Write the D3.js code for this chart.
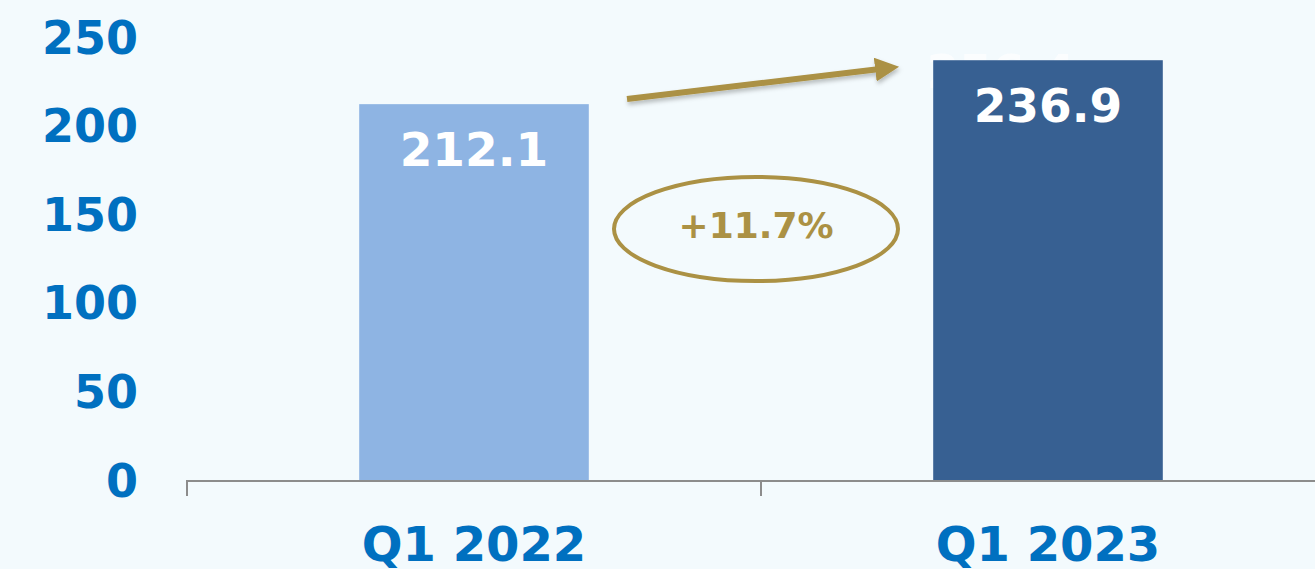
<!DOCTYPE html>
<html>
<head>
<meta charset="utf-8">
<script src="https://cdn.jsdelivr.net/npm/d3@7"></script>
<style>
  html, body { margin: 0; padding: 0; background: #f3fafd; }
  svg { display: block; font-family: "DejaVu Sans", Verdana, sans-serif; font-weight: bold; }
</style>
</head>
<body>
<div id="chart"></div>
<script>
// chart values
const quarters = ["Q1 2022", "Q1 2023"];
const values = [212.1, 236.9];
const barColors = ["#8eb4e3", "#376092"];
const yTicks = [0, 50, 100, 150, 200, 250];
const growthLabel = "+11.7%";
const hiddenLabel = "256.4";

const w = 1315;
const h = 569;

const svg = d3.select("#chart")
  .append("svg")
  .attr("width", w)
  .attr("height", h);

svg.append("rect")
  .attr("width", w)
  .attr("height", h)
  .attr("fill", "#f3fafd");

const defs = svg.append("defs");
defs.append("filter")
  .attr("id", "shadow")
  .attr("x", "-10%").attr("y", "-50%")
  .attr("width", "120%").attr("height", "200%")
  .append("feDropShadow")
  .attr("dx", 1).attr("dy", 3)
  .attr("stdDeviation", 2)
  .attr("flood-color", "#000")
  .attr("flood-opacity", 0.25);
defs.append("marker")
  .attr("id", "head")
  .attr("viewBox", "0 0 10 10")
  .attr("refX", 2).attr("refY", 5)
  .attr("markerWidth", 4).attr("markerHeight", 4)
  .attr("markerUnits", "strokeWidth")
  .attr("orient", "auto")
  .append("path")
  .attr("d", "M0,0 L10,5 L0,10 Z")
  .attr("fill", "#ab9144");

const xScale = d3.scaleBand()
  .domain(quarters)
  .range([187, 1335])
  .paddingInner(0.6)
  .paddingOuter(0.3);

const yScale = d3.scaleLinear()
  .domain([0, 250])
  .range([480, 37]);

// y labels (no axis line)
svg.append("g")
  .selectAll("text")
  .data(yTicks)
  .enter()
  .append("text")
  .attr("x", 138)
  .attr("y", d => yScale(d))
  .attr("dy", "0.36em")
  .attr("text-anchor", "end")
  .attr("font-size", 46)
  .attr("fill", "#0070c0")
  .text(d => d);

// leftover white label mostly hidden behind the second bar
svg.append("text")
  .attr("x", xScale(quarters[1]) + xScale.bandwidth() / 2 - 47)
  .attr("y", 88)
  .attr("text-anchor", "middle")
  .attr("font-size", 47)
  .attr("fill", "#ffffff")
  .attr("opacity", 0.7)
  .text(hiddenLabel);

// bars
svg.selectAll("rect.bar")
  .data(values)
  .enter()
  .append("rect")
  .attr("class", "bar")
  .attr("x", (d, i) => xScale(quarters[i]))
  .attr("y", d => yScale(d))
  .attr("width", xScale.bandwidth())
  .attr("height", d => yScale(0) - yScale(d))
  .attr("fill", (d, i) => barColors[i]);

// value labels
svg.selectAll("text.val")
  .data(values)
  .enter()
  .append("text")
  .attr("class", "val")
  .attr("x", (d, i) => xScale(quarters[i]) + xScale.bandwidth() / 2)
  .attr("y", d => yScale(d) + 62)
  .attr("text-anchor", "middle")
  .attr("font-size", 47)
  .attr("fill", "#ffffff")
  .text(d => d.toFixed(1));

// x axis line with boundary ticks
const gap = xScale.step() * xScale.paddingInner() / 2;
const bounds = quarters.map(q => xScale(q) - gap).concat([xScale(quarters[1]) + xScale.bandwidth() + gap]);
const xAxis = svg.append("g");
xAxis.append("line")
  .attr("x1", bounds[0]).attr("x2", w)
  .attr("y1", yScale(0) + 1).attr("y2", yScale(0) + 1)
  .attr("stroke", "#8c8c8c")
  .attr("stroke-width", 2);
xAxis.selectAll("line.tick")
  .data(bounds)
  .enter()
  .append("line")
  .attr("class", "tick")
  .attr("x1", d => d).attr("x2", d => d)
  .attr("y1", yScale(0)).attr("y2", yScale(0) + 16)
  .attr("stroke", "#8c8c8c")
  .attr("stroke-width", 2);

xAxis.selectAll("text")
  .data(quarters)
  .enter()
  .append("text")
  .attr("x", d => xScale(d) + xScale.bandwidth() / 2)
  .attr("y", 561)
  .attr("text-anchor", "middle")
  .attr("font-size", 48)
  .attr("fill", "#0070c0")
  .text(d => d);

// growth arrow
svg.append("line")
  .attr("x1", 627).attr("y1", 99)
  .attr("x2", 880).attr("y2", 69)
  .attr("stroke", "#ab9144")
  .attr("stroke-width", 6)
  .attr("marker-end", "url(#head)")
  .attr("filter", "url(#shadow)");

// growth ellipse and label
svg.append("ellipse")
  .attr("cx", 756).attr("cy", 229)
  .attr("rx", 142).attr("ry", 52)
  .attr("fill", "none")
  .attr("stroke", "#ab9144")
  .attr("stroke-width", 4);

svg.append("text")
  .attr("x", 756)
  .attr("y", 238)
  .attr("text-anchor", "middle")
  .attr("font-size", 36)
  .attr("fill", "#ab9144")
  .text(growthLabel);
</script>
</body>
</html>
